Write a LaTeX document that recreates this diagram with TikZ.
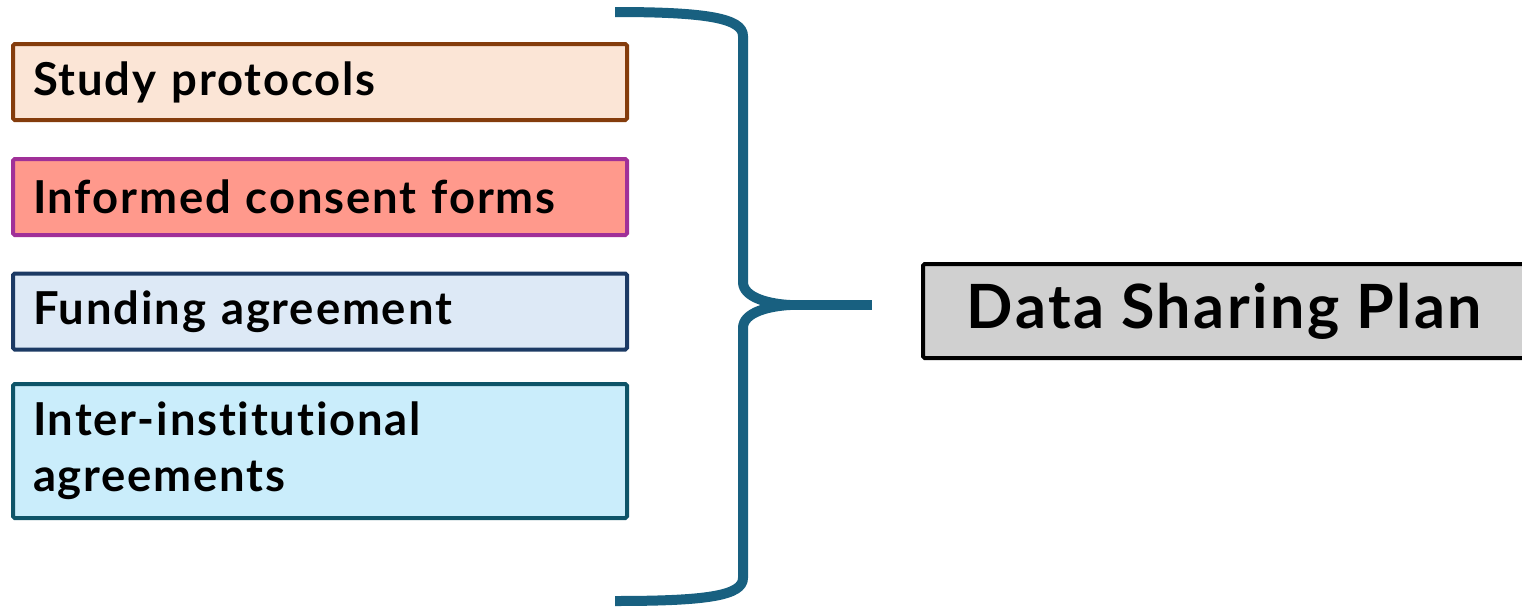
\documentclass[tikz,border=0pt]{standalone}
\usepackage{fontspec}
\setmainfont{Lato}[Ligatures=NoCommon, LetterSpace=4]
\definecolor{braceblue}{RGB}{24,96,128}
\definecolor{studyfill}{RGB}{251,229,214}
\definecolor{studydraw}{RGB}{132,60,12}
\definecolor{consentfill}{RGB}{255,153,140}
\definecolor{consentdraw}{RGB}{160,48,152}
\definecolor{fundfill}{RGB}{221,233,246}
\definecolor{funddraw}{RGB}{28,58,100}
\definecolor{interfill}{RGB}{202,237,251}
\definecolor{interdraw}{RGB}{14,84,104}
\definecolor{planfill}{RGB}{208,208,208}
\begin{document}
\begin{tikzpicture}[x=0.5pt,y=-0.5pt,
  docbox/.style={draw, line width=2pt, rectangle, rounded corners=0.8pt,
    minimum width=307pt, text width=287pt, inner xsep=10pt, align=left,
    font=\fontsize{22.7}{28}\selectfont\bfseries},
  planbox/.style={draw=black, fill=planfill, line width=2pt, rectangle,
    rounded corners=0.8pt, minimum width=301.5pt, minimum height=47pt,
    font=\fontsize{30.5}{36}\selectfont\bfseries},
  bracestroke/.style={draw=braceblue, line width=5pt, line join=round}]
\useasboundingbox (0,0) rectangle (1522,606);

% source documents
\node[docbox, fill=studyfill, draw=studydraw, minimum height=38pt] (study) at (320,82) {Study protocols};
\node[docbox, fill=consentfill, draw=consentdraw, minimum height=38pt] (consent) at (320,197) {Informed consent forms};
\node[docbox, fill=fundfill, draw=funddraw, minimum height=38pt] (fund) at (320,311.5) {Funding agreement};
\node[docbox, fill=interfill, draw=interdraw, minimum height=67pt] (inter) at (320,451) {Inter-institutional\\agreements};

% target
\node[planbox] (plan) at (1224.5,311) {Data Sharing Plan};

% curly brace gathering the documents
\coordinate (tip) at (790,305);
\coordinate (tipend) at (872,305);
\path[bracestroke] (615,12) .. controls (705,12) and (743,18) .. (743,36)
  -- (743,282) .. controls (743,298) and (770,304) .. (tip);
\path[bracestroke] (tip) .. controls (770,306) and (743,312) .. (743,328)
  -- (743,578) .. controls (743,596) and (705,601) .. (615,601);
\path[bracestroke] (tip) -- (tipend);
\end{tikzpicture}
\end{document}
